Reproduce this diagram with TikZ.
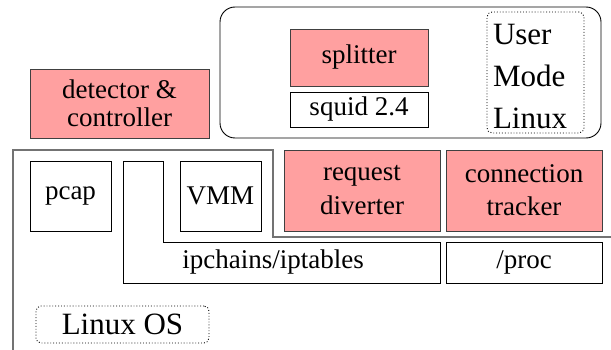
\documentclass[tikz,border=0pt]{standalone}
\usepackage{fontspec}
\setmainfont{Liberation Serif}
\usetikzlibrary{positioning}
\definecolor{hotpink}{RGB}{255,160,160}

\begin{document}
\begin{tikzpicture}[
    x=1pt,y=-1pt,
    every node/.style={inner sep=0pt,outer sep=0pt,font=\fontsize{27}{28}\selectfont,align=center},
    plain/.style={rectangle,draw,line width=0.9pt},
    active/.style={rectangle,draw=black!75,fill=hotpink,line width=0.9pt},
    tagbox/.style={rectangle,draw,dotted,rounded corners=5pt,line width=0.9pt,font=\fontsize{31}{42}\selectfont}
    ]
        \useasboundingbox (0,0) rectangle (611,350);
        % user mode linux
        \node [rectangle,draw,rounded corners=15pt,line width=0.9pt,minimum width=381pt,minimum height=131pt](uml) at (410.5,72.5) {};
        \node [active,minimum width=138pt,minimum height=57pt](split) at (359,57.5) {splitter};
        \node [plain,minimum width=138pt,minimum height=35pt](squid) [below=6pt of split] {squid 2.4};
        \node [tagbox,minimum width=97pt,minimum height=121pt](umltag) at (535.5,72.5) {};
        \node [font=\fontsize{31}{42}\selectfont,text width=85pt,align=left](umltext) at (535.5,77) {User\\Mode\\Linux};
        \node [active,minimum width=179pt,minimum height=69pt,font=\fontsize{27}{28}\selectfont](det) at (119.5,103.5) {detector \&\\controller};
        % host kernel
        \coordinate (os-bot) at (13,352);
        \coordinate (os-tl) at (13,150);
        \coordinate (os-tr) at (273,150);
        \coordinate (os-step) at (273,237);
        \coordinate (os-end) at (613,237);
        \draw [black!55,line width=1.1pt] (os-bot) -- (os-tl) -- (os-tr) -- (os-step) -- (os-end);
        \node [plain,minimum width=81pt,minimum height=70pt](pcap) at (70.5,196) {pcap};
        \node [plain,minimum width=81pt,minimum height=70pt](vmm) at (220.5,196) {VMM};
        \node [active,minimum width=156pt,minimum height=81pt,font=\fontsize{27}{34}\selectfont](req) at (362,190.5) {request\\diverter};
        \node [active,minimum width=156pt,minimum height=81pt,font=\fontsize{27}{33}\selectfont](conn) [right=6pt of req] {connection\\tracker};
        \node [plain,minimum width=156pt,minimum height=41pt](proc) [below=11pt of conn] {/proc};
        \coordinate (ip-a) at (123,161);
        \coordinate (ip-b) at (163,161);
        \coordinate (ip-c) at (163,242);
        \coordinate (ip-d) at (440,242);
        \coordinate (ip-e) at (440,283);
        \coordinate (ip-f) at (123,283);
        \draw [line width=0.9pt] (ip-a) -- (ip-b) -- (ip-c) -- (ip-d) -- (ip-e) -- (ip-f) -- cycle;
        \node (ip) at (273,262.5) {ipchains/iptables};
        \node [tagbox,minimum width=173pt,minimum height=37pt](ostag) at (122.5,324.5) {Linux OS};
\end{tikzpicture}
\end{document}
